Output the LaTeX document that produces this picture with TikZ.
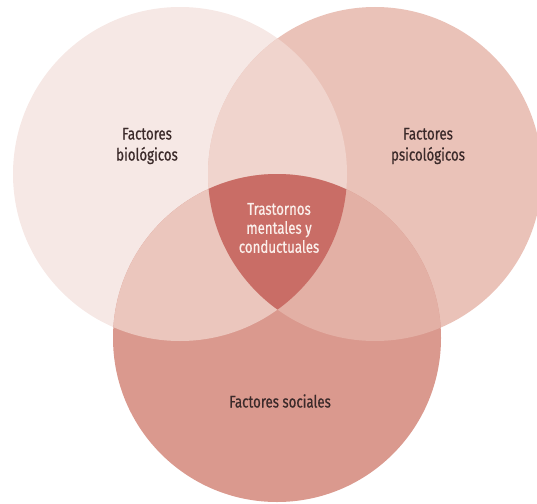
\documentclass[tikz,border=0pt]{standalone}
\usepackage{fontspec}
\setsansfont[FakeStretch=0.78,FakeBold=0.6]{Fira Sans}
\definecolor{colbio}{HTML}{F6E8E5}
\definecolor{colpsi}{HTML}{EAC2B8}
\definecolor{colsoc}{HTML}{DA998E}
\definecolor{colbp}{HTML}{F0D4CD}
\definecolor{colbs}{HTML}{EBC6BD}
\definecolor{colps}{HTML}{E3B0A5}
\definecolor{colall}{HTML}{C96D66}
\definecolor{txtdark}{HTML}{3B2A2A}
\definecolor{txtlight}{HTML}{FBEFEB}
\begin{document}
\begin{tikzpicture}[x=1pt,y=-1pt,
  lbl/.style={font=\sffamily\fontsize{17}{21}\selectfont, text=txtdark, align=center},
  lblmid/.style={lbl, text=txtlight, font=\sffamily\fontsize{17}{19}\selectfont}]
\useasboundingbox (0,0) rectangle (537,503);

\coordinate (bio) at (180,174); %centro biologicos
\coordinate (psi) at (375,174); %centro psicologicos
\coordinate (soc) at (277,338); %centro sociales

\fill[colbio] (bio) circle (167pt);
\fill[colpsi] (psi) circle (167pt);
\fill[colsoc] (soc) circle (164pt);

\begin{scope} %bio y psi
\clip (bio) circle (167pt);
\fill[colbp] (psi) circle (167pt);
\end{scope}
\begin{scope} %bio y soc
\clip (bio) circle (167pt);
\fill[colbs] (soc) circle (164pt);
\end{scope}
\begin{scope} %psi y soc
\clip (psi) circle (167pt);
\fill[colps] (soc) circle (164pt);
\end{scope}
\begin{scope} %los tres
\clip (bio) circle (167pt);
\clip (psi) circle (167pt);
\fill[colall] (soc) circle (164pt);
\end{scope}

\node[lbl] (tbio) at (147,146) {Factores\\biológicos};
\node[lbl] (tpsi) at (428,146) {Factores\\psicológicos};
\node[lbl] (tsoc) at (280,401) {Factores sociales};
\node[lblmid] (tmid) at (279,228) {Trastornos\\mentales y\\conductuales};

\end{tikzpicture}
\end{document}
